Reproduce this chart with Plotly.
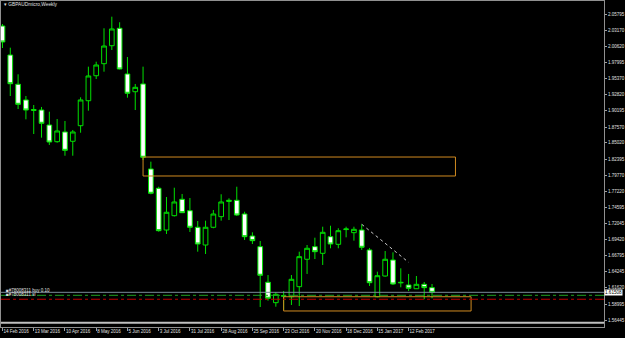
import plotly.graph_objects as go

# ---- data (weekly GBPAUDmicro candles, week index 0 = 14 Feb 2016) ----
weeks = list(range(56))
opens = [2.0386, 1.9918, 1.9446, 1.9193, 1.9023, 1.9031, 1.8789, 1.8520, 1.8677, 1.8527,
         1.8778, 1.9181, 1.9584, 1.9778, 2.0068, 2.0349, 1.9612, 1.9326, 1.9451, 1.8080,
         1.7769, 1.7096, 1.7327, 1.7591, 1.7407, 1.7140, 1.6854, 1.7140, 1.7311, 1.7556,
         1.7575, 1.7354, 1.6999, 1.6827, 1.6253, 1.5924, 1.6027, 1.6020, 1.6182, 1.6624,
         1.6827, 1.6720, 1.6988, 1.6865, 1.7103, 1.7053, 1.7096, 1.6774, 1.6020, 1.6354,
         1.6612, 1.6243, 1.6209, 1.6149, 1.6220, 1.6166]
highs = [2.0418, 2.0036, 1.9607, 1.9257, 1.9112, 1.9080, 1.9004, 1.8886, 1.8854, 1.8709,
         1.9236, 1.9730, 1.9810, 2.0349, 2.0536, 2.0446, 1.9886, 1.9451, 1.9730, 1.8198,
         1.7794, 1.7628, 1.7778, 1.7677, 1.7612, 1.7241, 1.7246, 1.7419, 1.7672, 1.7607,
         1.7794, 1.7391, 1.7059, 1.6919, 1.6370, 1.6096, 1.6112, 1.6370, 1.6746, 1.6854,
         1.6972, 1.7149, 1.7165, 1.7124, 1.7149, 1.7149, 1.7188, 1.6806, 1.6424, 1.6757,
         1.6736, 1.6478, 1.6387, 1.6354, 1.6258, 1.6225]
lows = [2.0031, 1.9257, 1.9047, 1.8881, 1.8644, 1.8585, 1.8467, 1.8504, 1.8294, 1.8294,
        1.8665, 1.9020, 1.9531, 1.9649, 1.9999, 1.9685, 1.9230, 1.9031, 1.8225, 1.7672,
        1.7069, 1.7032, 1.7314, 1.7370, 1.7064, 1.6746, 1.6709, 1.7124, 1.7246, 1.7257,
        1.7322, 1.6935, 1.6870, 1.5854, 1.5956, 1.5859, 1.5806, 1.5887, 1.5870, 1.6387,
        1.6628, 1.6532, 1.6801, 1.6801, 1.6978, 1.6924, 1.6774, 1.6193, 1.6011, 1.6343,
        1.6209, 1.6172, 1.6112, 1.6144, 1.5979, 1.5995]
closes = [2.0128, 1.9455, 1.9123, 1.9031, 1.9039, 1.8817, 1.8515, 1.8693, 1.8381, 1.8677,
          1.9193, 1.9580, 1.9757, 2.0063, 2.0338, 1.9693, 1.9301, 1.9397, 1.8269, 1.7688,
          1.7085, 1.7382, 1.7548, 1.7375, 1.7140, 1.6870, 1.7140, 1.7354, 1.7548, 1.7575,
          1.7338, 1.6988, 1.6924, 1.6366, 1.5995, 1.6059, 1.6037, 1.6301, 1.6666, 1.6801,
          1.6746, 1.7059, 1.6870, 1.7085, 1.7112, 1.7107, 1.6817, 1.6246, 1.6359, 1.6624,
          1.6225, 1.6251, 1.6156, 1.6220, 1.6166, 1.6091]

date_tick_idx = [0, 4, 8, 12, 16, 20, 24, 28, 32, 36, 40, 44, 48, 52]
date_tick_text = ["14 Feb 2016", "13 Mar 2016", "10 Apr 2016", "8 May 2016", "5 Jun 2016",
                  "3 Jul 2016", "31 Jul 2016", "28 Aug 2016", "25 Sep 2016", "23 Oct 2016",
                  "20 Nov 2016", "18 Dec 2016", "15 Jan 2017", "12 Feb 2017"]
price_ticks = [2.05795, 2.03170, 2.00620, 1.97995, 1.95370, 1.92820, 1.90195, 1.87570,
               1.85020, 1.82395, 1.79770, 1.77220, 1.74595, 1.72045, 1.69420, 1.66795,
               1.64245, 1.61620, 1.58995, 1.56445]

bid_price = closes[-1]
bid_text = "1.61508"
order_price = 1.6043
sl_price = 1.5979
base_line_price = 1.5600
order_text = "#78008311 buy 0.10"
sl_text = "#78008311 sl"
upper_zone_x = [18, 58]
upper_zone_y = [1.7967, 1.8273]
lower_zone_x = [36, 60]
lower_zone_y = [1.5790, 1.6020]
trend_x = [46, 52]
trend_y = [1.7188, 1.6575]

x_range = [-0.19, 77.02]
y_range = [1.55317, 2.07891]

GREEN = "#00e000"
ORANGE = "#d08a20"
FONT = "Liberation Sans"

fig = go.Figure()
fig.add_trace(go.Candlestick(
    x=weeks, open=opens, high=highs, low=lows, close=closes,
    increasing=dict(line=dict(color=GREEN, width=1), fillcolor="black"),
    decreasing=dict(line=dict(color=GREEN, width=1), fillcolor="white"),
    whiskerwidth=0, hoverinfo="skip", showlegend=False,
))
fig.add_trace(go.Scatter(x=trend_x, y=trend_y, mode="lines",
                         line=dict(color="#c8c8c8", width=1, dash="dot"),
                         hoverinfo="skip", showlegend=False))

shapes = []
shapes.append(dict(type="rect", xref="x", yref="y", x0=upper_zone_x[0], x1=upper_zone_x[1],
                   y0=upper_zone_y[0], y1=upper_zone_y[1], line=dict(color=ORANGE, width=1)))
shapes.append(dict(type="rect", xref="x", yref="y", x0=lower_zone_x[0], x1=lower_zone_x[1],
                   y0=lower_zone_y[0], y1=lower_zone_y[1], line=dict(color=ORANGE, width=1)))
shapes.append(dict(type="line", xref="paper", yref="y", x0=0, x1=1, y0=bid_price, y1=bid_price,
                   line=dict(color="#7a8a9a", width=1)))
shapes.append(dict(type="line", xref="paper", yref="y", x0=0, x1=1, y0=order_price, y1=order_price,
                   line=dict(color="#20a020", width=1, dash="dashdot")))
shapes.append(dict(type="line", xref="paper", yref="y", x0=0, x1=1, y0=sl_price, y1=sl_price,
                   line=dict(color="#c00000", width=1, dash="dashdot")))
shapes.append(dict(type="line", xref="paper", yref="y", x0=0, x1=1, y0=base_line_price, y1=base_line_price,
                   line=dict(color="#c0c0c0", width=2)))

annotations = [
    dict(text="▾ GBPAUDmicro,Weekly", xref="paper", yref="paper", x=0.002, y=0.988,
         xanchor="left", yanchor="middle", showarrow=False,
         font=dict(family=FONT, size=4.8, color="#e0e0e0")),
    dict(text="■" + order_text, xref="paper", yref="y", x=0.005, y=order_price,
         xanchor="left", yanchor="bottom", showarrow=False, yshift=0,
         font=dict(family=FONT, size=4.5, color="#e0e0e0")),
    dict(text="■" + sl_text, xref="paper", yref="y", x=0.005, y=sl_price,
         xanchor="left", yanchor="bottom", showarrow=False,
         font=dict(family=FONT, size=4.5, color="#e0e0e0")),
    dict(text=bid_text, xref="paper", yref="y", x=1.0, y=bid_price, xanchor="left",
         yanchor="middle", showarrow=False, bgcolor="white", borderpad=0,
         font=dict(family=FONT, size=4.6, color="black")),
]

fig.update_layout(
    width=625, height=338,
    margin=dict(l=1, r=21, t=1, b=11),
    paper_bgcolor="black", plot_bgcolor="black",
    boxgap=0.4, boxgroupgap=0,
    shapes=shapes, annotations=annotations,
    showlegend=False,
    xaxis=dict(range=x_range, rangeslider=dict(visible=False), showgrid=False, zeroline=False,
               automargin=False, tickangle=0,
               tickmode="array", tickvals=date_tick_idx, ticktext=date_tick_text,
               ticks="outside", ticklen=3, tickcolor="#a0a0a0",
               ticklabelposition="outside right",
               tickfont=dict(family=FONT, size=4.5, color="#e0e0e0"),
               showline=True, linecolor="#909090", linewidth=1, mirror=True),
    yaxis=dict(range=y_range, side="right", showgrid=False, zeroline=False,
               automargin=False,
               tickmode="array", tickvals=price_ticks,
               ticktext=[f"{v:.5f}" for v in price_ticks],
               ticks="outside", ticklen=2, tickcolor="#a0a0a0",
               tickfont=dict(family=FONT, size=4.5, color="#e0e0e0"),
               showline=True, linecolor="#909090", linewidth=1, mirror=True),
)

fig.write_html("out.html")
